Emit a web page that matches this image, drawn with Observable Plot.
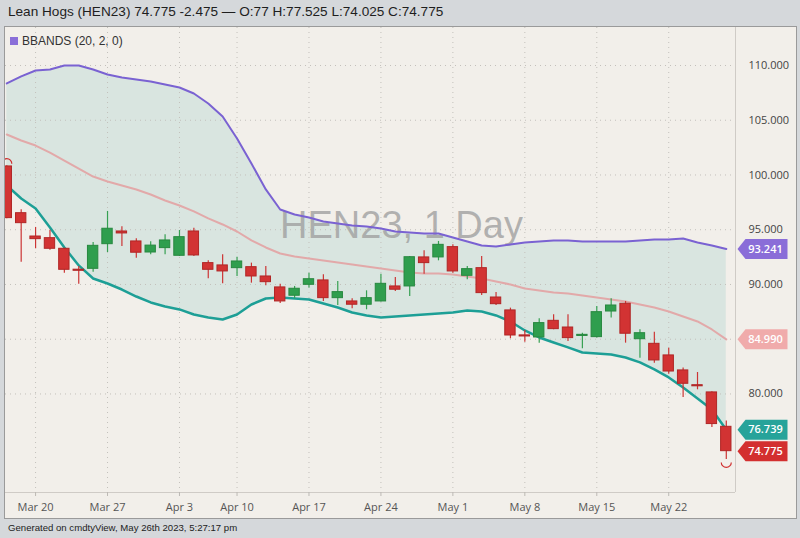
<!DOCTYPE html>
<html>
<head>
<meta charset="utf-8">
<script src="https://cdn.jsdelivr.net/npm/d3@7"></script>
<script src="https://cdn.jsdelivr.net/npm/@observablehq/plot@0.6"></script>
<style>
  html, body { margin: 0; padding: 0; }
  body { width: 800px; height: 538px; overflow: hidden; position: relative; background: #d5d8db; font-family: "Liberation Sans", Arial, sans-serif; }
  #title { position: absolute; left: 8px; top: 4px; font-size: 13.6px; color: #1e1e1e; white-space: nowrap; }
  #panel { position: absolute; left: 4px; top: 26px; width: 791px; height: 491px; border: 1px solid #9a9a9a; background: #f2efea; overflow: hidden; }
  #legend { position: absolute; left: 5px; top: 7px; font-size: 12px; color: #333; display: flex; align-items: center; }
  #legend span.sw { display: inline-block; width: 8px; height: 8px; background: #8a6fd8; margin-right: 4px; }
  #footer { position: absolute; left: 8px; top: 522px; font-size: 9.6px; color: #222; white-space: nowrap; }
</style>
</head>
<body>
<div id="title">Lean Hogs (HEN23) 74.775 -2.475 — O:77 H:77.525 L:74.025 C:74.775</div>
<div id="panel"><div id="chart"></div><div id="legend"><span class="sw"></span>BBANDS (20, 2, 0)</div></div>
<div id="footer">Generated on cmdtyView, May 26th 2023, 5:27:17 pm</div>
<script>
const dates = ["2023-03-16","2023-03-17","2023-03-20","2023-03-21","2023-03-22","2023-03-23","2023-03-24",
  "2023-03-27","2023-03-28","2023-03-29","2023-03-30","2023-03-31","2023-04-03","2023-04-04","2023-04-05","2023-04-06",
  "2023-04-10","2023-04-11","2023-04-12","2023-04-13","2023-04-14","2023-04-17","2023-04-18","2023-04-19","2023-04-20","2023-04-21",
  "2023-04-24","2023-04-25","2023-04-26","2023-04-27","2023-04-28","2023-05-01","2023-05-02","2023-05-03","2023-05-04","2023-05-05",
  "2023-05-08","2023-05-09","2023-05-10","2023-05-11","2023-05-12","2023-05-15","2023-05-16","2023-05-17","2023-05-18","2023-05-19",
  "2023-05-22","2023-05-23","2023-05-24","2023-05-25","2023-05-26"];
const opens  = [100.78,96.51,94.38,94.23,93.26,91.35,91.43,93.68,94.84,93.93,92.92,93.32,92.62,94.84,91.95,91.74,91.49,91.58,90.73,89.73,88.97,89.97,90.37,88.75,88.45,88.15,88.45,89.82,89.82,92.47,92.47,93.41,90.79,91.49,88.81,87.63,85.35,85.16,86.68,86.07,85.30,85.19,87.53,88.24,85.00,84.58,83.52,82.15,80.80,80.14,77.00];
const highs  = [100.85,96.82,95.21,94.96,93.30,91.64,93.84,96.67,95.27,94.17,93.90,94.54,94.93,95.14,92.16,92.71,92.49,91.95,91.64,90.03,89.82,91.03,90.88,90.27,88.69,89.42,90.94,90.64,92.56,93.07,93.93,93.62,91.64,92.56,89.27,87.84,85.80,86.87,87.23,87.23,85.55,87.99,88.69,88.45,85.86,85.64,84.18,82.36,81.96,80.20,77.525];
const lows   = [96.00,92.04,93.26,93.13,91.03,90.03,91.12,92.92,93.47,92.40,92.71,92.71,92.56,92.56,90.52,90.06,90.73,90.12,89.88,88.26,88.69,89.67,88.45,88.08,87.78,87.69,88.39,89.36,88.90,90.94,92.16,91.03,90.43,89.00,88.08,85.04,84.73,84.64,85.86,84.79,84.13,85.10,86.93,84.64,83.27,82.81,81.81,79.68,80.38,76.94,74.025];
const closes = [96.06,95.60,94.14,93.26,91.34,91.25,93.53,95.09,94.66,92.90,93.55,94.02,94.32,92.65,91.34,91.19,92.10,90.73,90.21,88.45,89.61,90.48,88.75,89.30,88.15,88.75,90.06,89.52,92.49,91.95,93.62,91.19,91.40,89.21,88.20,85.34,85.25,86.47,85.92,85.10,85.40,87.47,88.08,85.50,85.55,83.06,82.05,80.93,80.70,77.25,74.775];
const upperBand  = [108.36,109.00,109.54,109.63,110.00,110.00,109.63,109.18,108.90,108.72,108.54,108.26,107.99,107.44,106.53,105.34,103.33,101.05,98.68,96.85,96.39,96.12,95.75,95.57,95.39,95.30,95.11,94.84,94.75,94.66,94.66,94.29,93.93,93.56,93.47,93.65,93.84,93.93,94.02,94.02,93.93,93.93,93.93,93.93,94.02,94.11,94.11,94.20,93.84,93.56,93.241];
const middleBand = [103.70,103.15,102.69,102.05,101.32,100.59,99.86,99.41,99.04,98.68,98.22,97.67,97.21,96.67,96.03,95.48,94.84,94.02,93.38,92.83,92.56,92.37,92.19,92.01,91.83,91.64,91.46,91.28,91.10,91.00,91.00,90.91,90.73,90.55,90.27,90.00,89.63,89.45,89.27,89.18,89.00,88.81,88.63,88.45,88.17,87.90,87.53,87.08,86.62,85.89,84.990];
const lowerBand  = [99.04,97.85,96.94,95.21,93.38,91.74,90.55,90.09,89.54,88.90,88.36,87.99,87.72,87.26,86.99,86.80,87.26,88.17,88.72,88.81,88.72,88.63,88.26,87.90,87.44,87.17,86.99,87.08,87.17,87.26,87.35,87.44,87.63,87.53,87.17,86.62,85.80,85.16,84.70,84.25,83.79,83.70,83.61,83.33,82.88,82.24,81.51,80.59,79.59,78.58,76.739];
const yTicks = [80, 85, 90, 95, 100, 105, 110];
const tagValues = [93.241, 84.990, 76.739, 74.775];
const tagColors = ["#8a6dd8", "#f0abab", "#26a39a", "#d32f2f"];
const watermark = "HEN23, 1 Day";

const parse = d3.utcParse("%Y-%m-%d");
const fmt = d3.utcFormat("%b %-d");
const candles = dates.map((d, i) => ({i, date: parse(d), open: opens[i], high: highs[i], low: lows[i], close: closes[i]}));
const bands = dates.map((d, i) => ({i, upper: upperBand[i], middle: middleBand[i], lower: lowerBand[i]}));
const mondays = candles.filter(c => c.date.getUTCDay() === 1).map(c => c.i);
const hiCandle = candles.reduce((a, b) => (b.high > a.high ? b : a));
const loCandle = candles.reduce((a, b) => (b.low < a.low ? b : a));

const xDomain = [-0.09, 50.64];
const yDomain = [71.0, 113.47];
const up = c => c.close >= c.open;

const tagSymbol = {draw(ctx) { ctx.moveTo(2, 0); ctx.lineTo(10, -10); ctx.lineTo(52, -10); ctx.lineTo(52, 10); ctx.lineTo(10, 10); ctx.closePath(); }};
const capSymbol = {draw(ctx) { ctx.moveTo(-5, 0); ctx.arc(0, 0, 5, Math.PI, 2 * Math.PI); }};
const cupSymbol = {draw(ctx) { ctx.moveTo(5, 0); ctx.arc(0, 0, 5, 0, Math.PI); }};

const chart = Plot.plot({
  width: 791,
  height: 491,
  marginLeft: 0,
  marginRight: 61,
  marginTop: 0,
  marginBottom: 26,
  style: {background: "transparent", fontFamily: "'Open Sans', 'Noto Sans', sans-serif", fontSize: "11px", overflow: "visible"},
  x: {type: "linear", domain: xDomain, label: null},
  y: {domain: yDomain, label: null},
  marks: [
    Plot.areaY(bands, {x: "i", y1: "lower", y2: "upper", fill: "#d9e5e0"}),
    Plot.ruleX(mondays, {x: d => d, stroke: "#c3c0bb", strokeDasharray: "1,4"}),
    Plot.ruleY(yTicks, {y: d => d, stroke: "#c3c0bb", strokeDasharray: "1,4"}),
    Plot.text([watermark], {frameAnchor: "top-left", dx: 396, dy: 198, text: d => d, fontSize: 38, fontFamily: "'Liberation Sans', Arial, sans-serif", fill: "#9c9c9c", fillOpacity: 0.75, textAnchor: "middle", lineAnchor: "middle"}),
    Plot.line(bands, {x: "i", y: "upper", stroke: "#7a62d2", strokeWidth: 2}),
    Plot.line(bands, {x: "i", y: "middle", stroke: "#e2a9a9", strokeWidth: 2}),
    Plot.line(bands, {x: "i", y: "lower", stroke: "#1d9f96", strokeWidth: 2.5}),
    Plot.ruleX(candles, {x: "i", y1: "low", y2: "high", stroke: c => up(c) ? "#36a052" : "#cc3535", strokeWidth: 1.2}),
    Plot.rect(candles, {x1: c => c.i - 0.36, x2: c => c.i + 0.36, y1: "open", y2: "close",
      fill: c => up(c) ? "#2f9e4e" : "#d23333", stroke: c => up(c) ? "#27883f" : "#b02626", strokeWidth: 1}),
    Plot.dot([hiCandle], {x: "i", y: "high", dy: -2, symbol: capSymbol, fill: "none", stroke: "#d03030", strokeWidth: 1.2}),
    Plot.dot([loCandle], {x: "i", y: "low", dy: 3, symbol: cupSymbol, fill: "none", stroke: "#d03030", strokeWidth: 1.2}),
    Plot.ruleX([xDomain[1]], {x: d => d, stroke: "#cfcbc6"}),
    Plot.ruleY([yDomain[0]], {y: d => d, stroke: "#cfcbc6"}),
    Plot.axisX({ticks: mondays, tickFormat: i => fmt(candles[i].date), tickSize: 4, tickPadding: 7, stroke: "#bcb9b4", fill: "#555", fontSize: 11, label: null}),
    Plot.axisY({anchor: "right", ticks: yTicks, tickFormat: d3.format(".3f"), tickSize: 0, tickPadding: 13, fill: "#444", fontSize: 11, label: null}),
    Plot.dot(tagValues, {x: () => xDomain[1], y: d => d, symbol: tagSymbol, fill: (d, i) => tagColors[i], stroke: "none"}),
    Plot.text(tagValues, {x: () => xDomain[1], y: d => d, text: d => d.toFixed(3), dx: 30, fill: "white", fontSize: 11, fontWeight: 600, textAnchor: "middle"})
  ]
});
document.getElementById("chart").appendChild(chart);
</script>
</body>
</html>
